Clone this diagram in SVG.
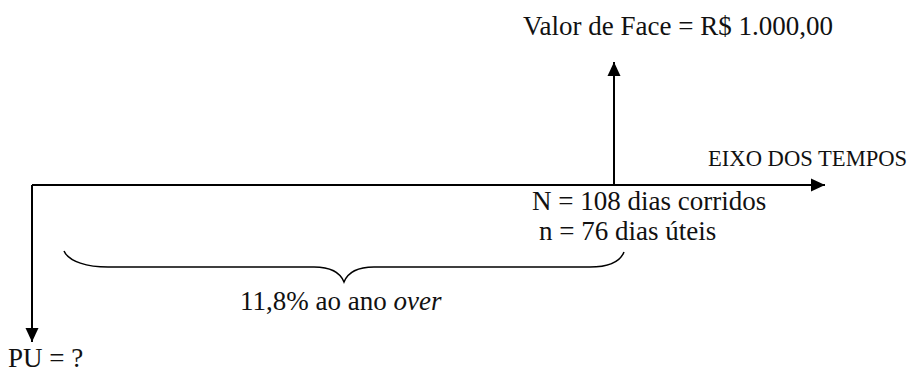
<svg xmlns="http://www.w3.org/2000/svg" width="910" height="379" viewBox="0 0 910 379">
<style>
text{font-family:"Liberation Serif","Times New Roman",serif;fill:#111;font-size:27px}
.ax{stroke:#000;stroke-width:2;fill:none}
.br{stroke:#000;stroke-width:1.5;fill:none}
</style>
<defs>
<marker id="ah" viewBox="0 0 14 14" refX="14" refY="7" markerWidth="14" markerHeight="14" markerUnits="userSpaceOnUse" orient="auto">
<path d="M0,0.5 L14,7 L0,13.5 Z" fill="#000"/>
</marker>
</defs>
<g id="connectors">
<path class="ax" d="M32,185 L825,185" marker-end="url(#ah)"/>
<path class="ax" d="M32,185 L32,342" marker-end="url(#ah)"/>
<path class="ax" d="M614,185 L614,62" marker-end="url(#ah)"/>
<path class="br" d="M64,251 C69,262 88,267 108,267 L314,267 C330,267 340,272 344,282 C348,272 358,267 374,267 L590,267 C608,267 620,262 624,252"/>
</g>
<g id="valor-face"><text x="523" y="35">Valor de Face = R$ 1.000,00</text></g>
<g id="eixo"><text x="708" y="166" style="font-size:22.6px">EIXO DOS TEMPOS</text></g>
<g id="prazo">
<text x="532" y="210">N = 108 dias corridos</text>
<text x="539" y="240">n = 76 dias úteis</text>
</g>
<g id="taxa"><text x="240" y="310">11,8% ao ano <tspan font-style="italic">over</tspan></text></g>
<g id="pu"><text x="8" y="367">PU = ?</text></g>
</svg>
